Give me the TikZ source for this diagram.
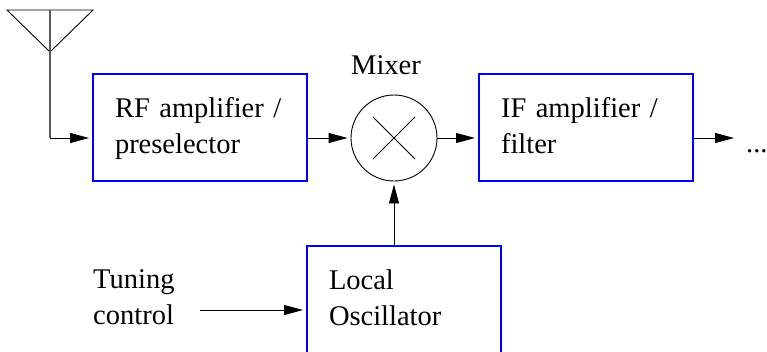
\documentclass[tikz,border=0pt]{standalone}
\usepackage{fontspec}
\setmainfont{Liberation Serif}
\usetikzlibrary{arrows.meta}
\tikzstyle{label}=[font=\fontsize{28.5}{36}\selectfont,inner sep=0pt,align=left]
\tikzstyle{block}=[label,draw=blue,line width=2pt,minimum height=107pt,inner xsep=22pt]
\tikzstyle{mix}=[draw,circle,line width=0.9pt,minimum size=86pt,inner sep=0pt]
\tikzstyle{wire}=[draw,line width=0.9pt,-{Triangle[length=19pt,width=10pt]},shorten >=3pt]
\newcommand{\fixtop}{\rule{0pt}{23pt}}
\newcommand{\fixbot}{\vphantom{p}}
\definecolor{aerialgrey}{gray}{0.35}

\begin{document}
\begin{tikzpicture}[x=1pt,y=-1pt]
    \useasboundingbox (0,0) rectangle (767,351);
    % First we draw the blocks
    \foreach \pos/\name/\wid/\txt in {{(200,127.5)/rf/170/{\fixtop RF amplifier /\\preselector\fixbot}},
        {(586,127.5)/ifamp/170/{\fixtop IF amplifier /\\filter\fixbot}},
        {(404,299)/lo/150/{\fixtop Local\\Oscillator\fixbot}}}
        \node[block,text width=\wid pt] (\name) at \pos {\txt};
    \node[mix] (mixer) at (394,138) {};
    \node[label] (mixlabel) at (386,65) {Mixer};
    \node[label,anchor=west] (tuning) at (93,298) {\fixtop Tuning\\control\fixbot};
    \node[label,anchor=base west] (dots) at (746,152) {...};
    % The cross inside the mixer
    \draw[line width=0.9pt] ([shift={(-21,-21)}]mixer.center) -- ([shift={(21,21)}]mixer.center);
    \draw[line width=0.9pt] ([shift={(-21,21)}]mixer.center) -- ([shift={(21,-21)}]mixer.center);
    % Antenna
    \coordinate (aerialtop) at (50,10);
    \coordinate (aerialtip) at (50,52);
    \coordinate (aerialfoot) at (50,138);
    \coordinate (tunefrom) at (200,310);
    \coordinate (ifout) at (734,138);
    \draw[line width=0.9pt] (7,10) -- (93,10) -- (aerialtip) -- cycle;
    \draw[aerialgrey,line width=1.1pt] (aerialtop) -- (aerialfoot);
    % Connect the blocks
    \path[wire] (aerialfoot) -- (aerialfoot -| rf.west);
    \path[wire] (rf.east |- mixer.west) -- (mixer.west);
    \path[wire] (mixer.east) -- (ifamp.west |- mixer.east);
    \path[wire,shorten >=0pt] (ifamp.east |- mixer.east) -- (ifout);
    \path[wire] (lo.north -| mixer.south) -- (mixer.south);
    \path[wire] (tunefrom) -- (tunefrom -| lo.west);
\end{tikzpicture}
\end{document}
